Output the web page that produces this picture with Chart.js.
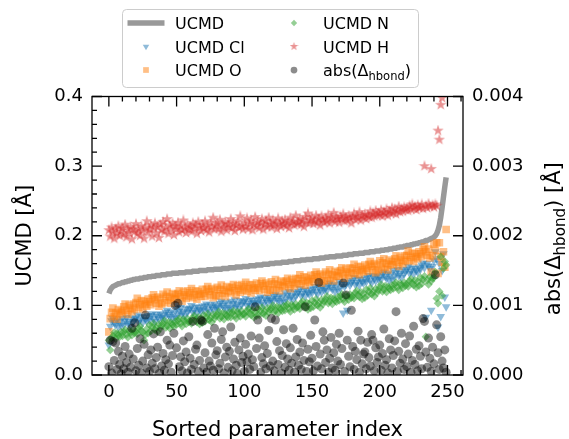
<!DOCTYPE html>
<html>
<head>
<meta charset="utf-8">
<title>UCMD vs sorted parameter index</title>
<script src="https://cdn.jsdelivr.net/npm/chart.js@4.4.1/dist/chart.umd.min.js"></script>
<style>
  html, body { margin: 0; padding: 0; background: #fff; }
  #chart { display: block; }
</style>
</head>
<body>
<canvas id="chart" width="569" height="439"></canvas>
<script>
// Values, parameters sorted by UCMD
const ucmd = [
  0.117, 0.122, 0.125, 0.127, 0.128, 0.129, 0.130, 0.131, 0.131, 0.132,
  0.133, 0.133, 0.134, 0.134, 0.135, 0.135, 0.136, 0.136, 0.137, 0.137,
  0.138, 0.138, 0.138, 0.139, 0.139, 0.139, 0.140, 0.140, 0.140, 0.141,
  0.141, 0.141, 0.142, 0.142, 0.142, 0.143, 0.143, 0.143, 0.143, 0.144,
  0.144, 0.144, 0.144, 0.145, 0.145, 0.145, 0.145, 0.146, 0.146, 0.146,
  0.146, 0.146, 0.147, 0.147, 0.147, 0.147, 0.147, 0.148, 0.148, 0.148,
  0.148, 0.148, 0.149, 0.149, 0.149, 0.149, 0.149, 0.150, 0.150, 0.150,
  0.150, 0.150, 0.150, 0.151, 0.151, 0.151, 0.151, 0.151, 0.152, 0.152,
  0.152, 0.152, 0.152, 0.152, 0.153, 0.153, 0.153, 0.153, 0.153, 0.154,
  0.154, 0.154, 0.154, 0.154, 0.155, 0.155, 0.155, 0.155, 0.155, 0.156,
  0.156, 0.156, 0.156, 0.156, 0.157, 0.157, 0.157, 0.157, 0.157, 0.158,
  0.158, 0.158, 0.158, 0.158, 0.159, 0.159, 0.159, 0.159, 0.159, 0.160,
  0.160, 0.160, 0.160, 0.161, 0.161, 0.161, 0.161, 0.161, 0.162, 0.162,
  0.162, 0.162, 0.162, 0.163, 0.163, 0.163, 0.163, 0.164, 0.164, 0.164,
  0.164, 0.164, 0.165, 0.165, 0.165, 0.165, 0.166, 0.166, 0.166, 0.166,
  0.166, 0.167, 0.167, 0.167, 0.167, 0.167, 0.168, 0.168, 0.168, 0.168,
  0.169, 0.169, 0.169, 0.170, 0.170, 0.170, 0.170, 0.170, 0.171, 0.171,
  0.171, 0.171, 0.171, 0.172, 0.172, 0.172, 0.172, 0.173, 0.173, 0.173,
  0.173, 0.174, 0.174, 0.174, 0.174, 0.175, 0.175, 0.175, 0.175, 0.176,
  0.176, 0.176, 0.176, 0.177, 0.177, 0.177, 0.177, 0.178, 0.178, 0.178,
  0.178, 0.179, 0.179, 0.179, 0.180, 0.180, 0.180, 0.181, 0.181, 0.181,
  0.182, 0.182, 0.182, 0.183, 0.183, 0.184, 0.184, 0.184, 0.185, 0.185,
  0.186, 0.186, 0.186, 0.187, 0.187, 0.188, 0.188, 0.189, 0.189, 0.190,
  0.190, 0.191, 0.191, 0.192, 0.193, 0.193, 0.194, 0.195, 0.196, 0.197,
  0.198, 0.200, 0.203, 0.208, 0.215, 0.226, 0.240, 0.255, 0.270, 0.284
];

const ucmdCl = [
  0.043, 0.070, 0.078, 0.081, 0.075, 0.072, 0.079, 0.069, 0.077, 0.071,
  0.081, 0.072, 0.078, 0.083, 0.074, 0.077, 0.071, 0.082, 0.076, 0.080,
  0.082, 0.086, 0.076, 0.079, 0.084, 0.075, 0.083, 0.080, 0.078, 0.085,
  0.079, 0.085, 0.088, 0.081, 0.077, 0.087, 0.084, 0.080, 0.088, 0.083,
  0.086, 0.082, 0.090, 0.093, 0.087, 0.084, 0.091, 0.081, 0.089, 0.083,
  0.095, 0.086, 0.092, 0.097, 0.088, 0.091, 0.085, 0.096, 0.090, 0.094,
  0.096, 0.100, 0.090, 0.093, 0.098, 0.089, 0.097, 0.094, 0.092, 0.099,
  0.093, 0.099, 0.102, 0.095, 0.091, 0.101, 0.098, 0.094, 0.102, 0.097,
  0.099, 0.095, 0.103, 0.106, 0.100, 0.097, 0.104, 0.094, 0.102, 0.096,
  0.106, 0.097, 0.103, 0.108, 0.099, 0.102, 0.096, 0.107, 0.101, 0.105,
  0.106, 0.110, 0.100, 0.103, 0.108, 0.099, 0.107, 0.104, 0.102, 0.109,
  0.103, 0.109, 0.112, 0.105, 0.101, 0.111, 0.108, 0.104, 0.112, 0.107,
  0.109, 0.105, 0.113, 0.116, 0.110, 0.107, 0.114, 0.104, 0.112, 0.106,
  0.118, 0.109, 0.115, 0.120, 0.111, 0.114, 0.108, 0.119, 0.113, 0.117,
  0.120, 0.124, 0.114, 0.117, 0.122, 0.113, 0.121, 0.118, 0.116, 0.123,
  0.118, 0.124, 0.127, 0.120, 0.116, 0.126, 0.123, 0.119, 0.127, 0.122,
  0.125, 0.121, 0.129, 0.132, 0.126, 0.123, 0.130, 0.120, 0.128, 0.122,
  0.134, 0.125, 0.131, 0.089, 0.127, 0.130, 0.093, 0.135, 0.129, 0.133,
  0.136, 0.140, 0.130, 0.133, 0.138, 0.129, 0.137, 0.134, 0.132, 0.139,
  0.134, 0.140, 0.143, 0.136, 0.132, 0.142, 0.139, 0.135, 0.143, 0.138,
  0.141, 0.137, 0.145, 0.148, 0.142, 0.139, 0.146, 0.136, 0.144, 0.138,
  0.150, 0.141, 0.147, 0.152, 0.143, 0.146, 0.140, 0.151, 0.145, 0.149,
  0.152, 0.156, 0.146, 0.149, 0.154, 0.145, 0.153, 0.150, 0.148, 0.155,
  0.152, 0.158, 0.161, 0.154, 0.083, 0.160, 0.157, 0.153, 0.093, 0.156,
  0.164, 0.177, 0.167, 0.069, 0.160, 0.084, 0.150, 0.174, 0.112, 0.098
];

const ucmdO = [
  0.062, 0.081, 0.090, 0.096, 0.084, 0.089, 0.080, 0.094, 0.087, 0.092,
  0.090, 0.098, 0.102, 0.093, 0.087, 0.100, 0.096, 0.091, 0.102, 0.094,
  0.104, 0.110, 0.097, 0.101, 0.107, 0.095, 0.106, 0.102, 0.099, 0.109,
  0.105, 0.101, 0.111, 0.115, 0.108, 0.103, 0.112, 0.099, 0.110, 0.102,
  0.116, 0.104, 0.113, 0.119, 0.107, 0.112, 0.103, 0.117, 0.110, 0.115,
  0.109, 0.117, 0.121, 0.112, 0.106, 0.119, 0.115, 0.110, 0.121, 0.113,
  0.118, 0.124, 0.111, 0.115, 0.121, 0.109, 0.120, 0.116, 0.113, 0.123,
  0.117, 0.113, 0.123, 0.127, 0.120, 0.115, 0.124, 0.111, 0.122, 0.114,
  0.126, 0.114, 0.123, 0.129, 0.117, 0.122, 0.113, 0.127, 0.120, 0.125,
  0.118, 0.126, 0.130, 0.121, 0.115, 0.128, 0.124, 0.119, 0.130, 0.122,
  0.127, 0.133, 0.120, 0.124, 0.130, 0.118, 0.129, 0.125, 0.122, 0.132,
  0.125, 0.121, 0.131, 0.135, 0.128, 0.123, 0.132, 0.119, 0.130, 0.122,
  0.134, 0.122, 0.131, 0.137, 0.125, 0.130, 0.121, 0.135, 0.128, 0.133,
  0.127, 0.135, 0.139, 0.130, 0.124, 0.137, 0.133, 0.128, 0.139, 0.131,
  0.138, 0.144, 0.131, 0.135, 0.141, 0.129, 0.140, 0.136, 0.133, 0.143,
  0.138, 0.134, 0.144, 0.148, 0.141, 0.136, 0.145, 0.132, 0.143, 0.135,
  0.148, 0.136, 0.145, 0.151, 0.139, 0.144, 0.135, 0.149, 0.142, 0.147,
  0.142, 0.150, 0.154, 0.145, 0.139, 0.152, 0.148, 0.143, 0.154, 0.146,
  0.153, 0.159, 0.146, 0.150, 0.156, 0.144, 0.155, 0.151, 0.148, 0.158,
  0.153, 0.149, 0.159, 0.163, 0.156, 0.151, 0.160, 0.147, 0.158, 0.150,
  0.164, 0.152, 0.161, 0.167, 0.155, 0.160, 0.151, 0.165, 0.158, 0.163,
  0.159, 0.167, 0.171, 0.162, 0.156, 0.169, 0.165, 0.160, 0.171, 0.163,
  0.172, 0.178, 0.165, 0.169, 0.175, 0.163, 0.174, 0.170, 0.167, 0.177,
  0.174, 0.170, 0.180, 0.184, 0.177, 0.172, 0.181, 0.168, 0.148, 0.171,
  0.188, 0.179, 0.190, 0.146, 0.190, 0.170, 0.162, 0.177, 0.155, 0.209
];

const ucmdN = [
  0.050, 0.036, 0.053, 0.056, 0.061, 0.052, 0.060, 0.057, 0.055, 0.062,
  0.056, 0.062, 0.065, 0.058, 0.054, 0.064, 0.061, 0.057, 0.065, 0.060,
  0.063, 0.059, 0.067, 0.070, 0.064, 0.061, 0.050, 0.058, 0.066, 0.060,
  0.072, 0.063, 0.069, 0.074, 0.065, 0.068, 0.062, 0.073, 0.067, 0.071,
  0.074, 0.078, 0.068, 0.071, 0.076, 0.067, 0.075, 0.072, 0.070, 0.077,
  0.072, 0.078, 0.081, 0.074, 0.070, 0.080, 0.077, 0.073, 0.081, 0.076,
  0.078, 0.074, 0.082, 0.085, 0.079, 0.076, 0.083, 0.073, 0.081, 0.075,
  0.086, 0.077, 0.083, 0.088, 0.079, 0.082, 0.076, 0.087, 0.081, 0.085,
  0.087, 0.091, 0.081, 0.084, 0.089, 0.080, 0.088, 0.085, 0.083, 0.090,
  0.083, 0.089, 0.092, 0.085, 0.081, 0.091, 0.088, 0.084, 0.092, 0.087,
  0.088, 0.084, 0.092, 0.095, 0.089, 0.086, 0.093, 0.083, 0.091, 0.085,
  0.095, 0.086, 0.092, 0.097, 0.088, 0.091, 0.085, 0.096, 0.090, 0.094,
  0.096, 0.100, 0.090, 0.093, 0.098, 0.089, 0.097, 0.094, 0.092, 0.099,
  0.093, 0.099, 0.102, 0.095, 0.091, 0.101, 0.098, 0.094, 0.102, 0.097,
  0.099, 0.095, 0.103, 0.106, 0.100, 0.097, 0.104, 0.094, 0.102, 0.096,
  0.107, 0.098, 0.104, 0.109, 0.100, 0.103, 0.097, 0.108, 0.102, 0.106,
  0.109, 0.113, 0.103, 0.106, 0.111, 0.102, 0.110, 0.107, 0.105, 0.112,
  0.107, 0.113, 0.116, 0.109, 0.105, 0.115, 0.112, 0.108, 0.116, 0.111,
  0.114, 0.110, 0.118, 0.121, 0.115, 0.112, 0.119, 0.109, 0.117, 0.111,
  0.123, 0.114, 0.120, 0.125, 0.116, 0.119, 0.113, 0.124, 0.118, 0.122,
  0.126, 0.130, 0.120, 0.123, 0.128, 0.119, 0.127, 0.124, 0.122, 0.129,
  0.124, 0.130, 0.133, 0.126, 0.122, 0.132, 0.129, 0.125, 0.133, 0.128,
  0.131, 0.127, 0.135, 0.138, 0.132, 0.129, 0.136, 0.126, 0.134, 0.128,
  0.140, 0.131, 0.137, 0.142, 0.055, 0.136, 0.130, 0.141, 0.135, 0.139,
  0.140, 0.148, 0.110, 0.103, 0.120, 0.170, 0.114, 0.153, 0.163, 0.158
];

const ucmdH = [
  0.208, 0.199, 0.212, 0.205, 0.196, 0.210, 0.203, 0.214, 0.200, 0.207,
  0.211, 0.202, 0.216, 0.198, 0.209, 0.204, 0.213, 0.195, 0.210, 0.206,
  0.217, 0.203, 0.209, 0.200, 0.214, 0.207, 0.196, 0.212, 0.221, 0.205,
  0.209, 0.215, 0.199, 0.211, 0.218, 0.204, 0.213, 0.197, 0.216, 0.208,
  0.220, 0.206, 0.212, 0.224, 0.203, 0.215, 0.209, 0.218, 0.201, 0.213,
  0.210, 0.219, 0.205, 0.214, 0.208, 0.222, 0.211, 0.204, 0.216, 0.209,
  0.213, 0.206, 0.218, 0.210, 0.215, 0.203, 0.220, 0.212, 0.207, 0.216,
  0.211, 0.221, 0.208, 0.214, 0.205, 0.219, 0.212, 0.226, 0.209, 0.215,
  0.218, 0.210, 0.223, 0.206, 0.216, 0.212, 0.220, 0.208, 0.217, 0.213,
  0.224, 0.211, 0.218, 0.207, 0.215, 0.221, 0.212, 0.228, 0.214, 0.209,
  0.219, 0.213, 0.225, 0.210, 0.217, 0.222, 0.208, 0.216, 0.227, 0.214,
  0.220, 0.211, 0.218, 0.224, 0.209, 0.216, 0.221, 0.213, 0.226, 0.217,
  0.212, 0.222, 0.215, 0.219, 0.210, 0.225, 0.217, 0.213, 0.221, 0.216,
  0.223, 0.214, 0.219, 0.211, 0.226, 0.218, 0.221, 0.215, 0.229, 0.217,
  0.220, 0.224, 0.216, 0.222, 0.213, 0.227, 0.219, 0.232, 0.218, 0.223,
  0.226, 0.217, 0.221, 0.229, 0.219, 0.224, 0.215, 0.228, 0.222, 0.219,
  0.225, 0.221, 0.230, 0.218, 0.226, 0.223, 0.233, 0.220, 0.227, 0.224,
  0.219, 0.228, 0.224, 0.231, 0.221, 0.226, 0.222, 0.229, 0.225, 0.218,
  0.227, 0.232, 0.223, 0.228, 0.225, 0.234, 0.222, 0.229, 0.226, 0.231,
  0.224, 0.230, 0.227, 0.235, 0.226, 0.232, 0.228, 0.236, 0.229, 0.233,
  0.230, 0.237, 0.228, 0.234, 0.231, 0.238, 0.229, 0.235, 0.232, 0.240,
  0.233, 0.238, 0.231, 0.236, 0.242, 0.234, 0.239, 0.235, 0.241, 0.237,
  0.240, 0.236, 0.243, 0.238, 0.245, 0.239, 0.242, 0.237, 0.244, 0.240,
  0.241, 0.245, 0.239, 0.300, 0.243, 0.240, 0.246, 0.242, 0.296, 0.244,
  0.241, 0.245, 0.243, 0.351, 0.338, 0.388, 0.398, 0.430, 0.470, 0.520
];

// right axis
const hbondAbs = [
  0.00012, 0.00050, 0.00003, 0.00048, 0.00021, 0.00046, 0.00008, 0.00034, 0.00015, 0.00002,
  0.00027, 0.00009, 0.00041, 0.00018, 0.00004, 0.00030, 0.00011, 0.00067, 0.00023, 0.00075,
  0.00006, 0.00038, 0.00014, 0.00052, 0.00003, 0.00020, 0.00044, 0.00086, 0.00010, 0.00029,
  0.00005, 0.00036, 0.00017, 0.00059, 0.00009, 0.00025, 0.00040, 0.00002, 0.00062, 0.00013,
  0.00031, 0.00007, 0.00022, 0.00050, 0.00016, 0.00043, 0.00004, 0.00028, 0.00060, 0.00100,
  0.00039, 0.00103, 0.00012, 0.00026, 0.00006, 0.00049, 0.00019, 0.00033, 0.00003, 0.00055,
  0.00024, 0.00008, 0.00077, 0.00015, 0.00037, 0.00043, 0.00005, 0.00021, 0.00079, 0.00077,
  0.00010, 0.00032, 0.00004, 0.00058, 0.00020, 0.00013, 0.00046, 0.00007, 0.00067, 0.00029,
  0.00035, 0.00009, 0.00017, 0.00051, 0.00062, 0.00003, 0.00026, 0.00040, 0.00011, 0.00034,
  0.00069, 0.00006, 0.00023, 0.00047, 0.00014, 0.00002, 0.00036, 0.00053, 0.00018, 0.00027,
  0.00005, 0.00044, 0.00019, 0.00030, 0.00008, 0.00056, 0.00022, 0.00012, 0.00098, 0.00038,
  0.00079, 0.00053, 0.00004, 0.00025, 0.00016, 0.00042, 0.00009, 0.00031, 0.00064, 0.00013,
  0.00081, 0.00020, 0.00006, 0.00079, 0.00048, 0.00015, 0.00035, 0.00003, 0.00028, 0.00065,
  0.00011, 0.00045, 0.00023, 0.00007, 0.00039, 0.00017, 0.00067, 0.00004, 0.00026, 0.00051,
  0.00014, 0.00033, 0.00008, 0.00046, 0.00021, 0.00098, 0.00005, 0.00037, 0.00019, 0.00057,
  0.00024, 0.00006, 0.00079, 0.00041, 0.00013, 0.00133, 0.00030, 0.00009, 0.00062, 0.00050,
  0.00018, 0.00036, 0.00004, 0.00024, 0.00054, 0.00010, 0.00032, 0.00007, 0.00044, 0.00020,
  0.00060, 0.00015, 0.00038, 0.00132, 0.00005, 0.00115, 0.00050, 0.00027, 0.00012, 0.00093,
  0.00041, 0.00008, 0.00034, 0.00022, 0.00063, 0.00004, 0.00050, 0.00016, 0.00030, 0.00033,
  0.00009, 0.00047, 0.00025, 0.00013, 0.00058, 0.00050, 0.00006, 0.00039, 0.00018, 0.00026,
  0.00043, 0.00007, 0.00031, 0.00066, 0.00014, 0.00022, 0.00003, 0.00052, 0.00036, 0.00010,
  0.00028, 0.00049, 0.00091, 0.00005, 0.00034, 0.00017, 0.00060, 0.00023, 0.00008, 0.00045,
  0.00012, 0.00030, 0.00056, 0.00004, 0.00021, 0.00070, 0.00015, 0.00037, 0.00006, 0.00042,
  0.00027, 0.00009, 0.00081, 0.00077, 0.00033, 0.00011, 0.00053, 0.00024, 0.00005, 0.00040,
  0.00016, 0.00144, 0.00072, 0.00032, 0.00008, 0.00055, 0.00020, 0.00010, 0.00036, 0.00004
];

const paramIndex = ucmd.map((_, i) => i);
const xTicks = [0, 50, 100, 150, 200, 250];
const yTicks = [0, 0.1, 0.2, 0.3, 0.4];
const y2Ticks = [0, 0.001, 0.002, 0.003, 0.004];

const FONT = '"DejaVu Sans", sans-serif';

function toPoints(vals) {
  return vals.map((v, i) => ({ x: paramIndex[i], y: v }));
}

// filled 5 point star like matplotlib's '*'
function starMarker(size, color) {
  const c = document.createElement('canvas');
  c.width = c.height = size;
  const g = c.getContext('2d');
  const r = size / 2, ri = r * 0.382;
  g.fillStyle = color;
  g.beginPath();
  for (let k = 0; k < 10; k++) {
    const rad = k % 2 ? ri : r;
    const ang = -Math.PI / 2 + k * Math.PI / 5;
    g.lineTo(r + rad * Math.cos(ang), r + rad * Math.sin(ang));
  }
  g.closePath();
  g.fill();
  return c;
}
const starPlot = starMarker(12, 'rgba(214,39,40,0.5)');
const starLegend = starMarker(9, 'rgba(214,39,40,0.5)');

// text with _{sub} parts
function drawRich(ctx, text, x, y, size, align) {
  const parts = [];
  text.split(/(_\{[^}]*\})/).forEach(s => {
    if (!s) return;
    if (s.startsWith('_{')) parts.push({ t: s.slice(2, -1), sub: true });
    else parts.push({ t: s, sub: false });
  });
  const subSize = size * 0.72;
  const widths = parts.map(p => {
    ctx.font = (p.sub ? subSize : size) + 'px ' + FONT;
    return ctx.measureText(p.t).width;
  });
  const total = widths.reduce((s, w) => s + w, 0);
  let cx = align === 'center' ? x - total / 2 : x;
  ctx.textAlign = 'left';
  ctx.textBaseline = 'alphabetic';
  parts.forEach((p, i) => {
    ctx.font = (p.sub ? subSize : size) + 'px ' + FONT;
    ctx.fillText(p.t, cx, y + (p.sub ? size * 0.24 : 0));
    cx += widths[i];
  });
}

const frameTicks = {
  id: 'frameTicks',
  afterDatasetsDraw(chart) {
    const { ctx, chartArea: a } = chart;
    const { x, y, y2 } = chart.scales;
    ctx.save();
    ctx.strokeStyle = '#000';
    ctx.lineWidth = 1.3;
    ctx.beginPath();
    for (let v = 0; v <= x.max; v += 10) {
      const px = x.getPixelForValue(v);
      const len = xTicks.includes(v) ? 10 : 5;
      ctx.moveTo(px, a.bottom); ctx.lineTo(px, a.bottom - len);
      ctx.moveTo(px, a.top); ctx.lineTo(px, a.top + len);
    }
    for (let k = 0; k <= 20; k++) {
      const py = y.getPixelForValue(k * 0.02);
      const len = k % 5 === 0 ? 10 : 5;
      ctx.moveTo(a.left, py); ctx.lineTo(a.left + len, py);
    }
    y2Ticks.forEach(v => {
      const py = y2.getPixelForValue(v);
      ctx.moveTo(a.right, py); ctx.lineTo(a.right - 10, py);
    });
    ctx.stroke();
    ctx.strokeRect(a.left, a.top, a.right - a.left, a.bottom - a.top);
    ctx.restore();
  }
};

const legendAndTitles = {
  id: 'legendAndTitles',
  afterDraw(chart) {
    const ctx = chart.ctx;
    const a = chart.chartArea;
    ctx.save();
    ctx.fillStyle = '#000';

    // axis titles
    drawRich(ctx, 'Sorted parameter index', (a.left + a.right) / 2, 436, 21, 'center');
    ctx.save();
    ctx.translate(31, (a.top + a.bottom) / 2);
    ctx.rotate(-Math.PI / 2);
    drawRich(ctx, 'UCMD [Å]', 0, 0, 21, 'center');
    ctx.restore();
    ctx.save();
    ctx.translate(560, (a.top + a.bottom) / 2 + 3);
    ctx.rotate(-Math.PI / 2);
    drawRich(ctx, 'abs(Δ_{hbond}) [Å]', 0, 0, 21, 'center');
    ctx.restore();

    // legend frame
    const bx = 122.5, by = 9.5, bw = 296, bh = 78, br = 4;
    ctx.beginPath();
    ctx.moveTo(bx + br, by);
    ctx.arcTo(bx + bw, by, bx + bw, by + bh, br);
    ctx.arcTo(bx + bw, by + bh, bx, by + bh, br);
    ctx.arcTo(bx, by + bh, bx, by, br);
    ctx.arcTo(bx, by, bx + bw, by, br);
    ctx.closePath();
    ctx.fillStyle = 'rgba(255,255,255,0.8)';
    ctx.fill();
    ctx.strokeStyle = '#cccccc';
    ctx.lineWidth = 1;
    ctx.stroke();

    const colMarker = [146, 294], colText = [175, 323], rowY = [23, 46.5, 70];
    chart.data.datasets.forEach((ds, i) => {
      const col = Math.floor(i / 3), row = i % 3;
      const mx = colMarker[col], my = rowY[row];
      if (ds.showLine) {
        ctx.strokeStyle = ds.borderColor;
        ctx.lineWidth = ds.borderWidth;
        ctx.beginPath();
        ctx.moveTo(mx - 18.5, my); ctx.lineTo(mx + 18.5, my);
        ctx.stroke();
      } else if (ds.pointStyle instanceof HTMLCanvasElement) {
        ctx.drawImage(starLegend, mx - starLegend.width / 2, my - starLegend.height / 2);
      } else {
        ctx.fillStyle = ds.backgroundColor;
        Chart.helpers.drawPoint(ctx, {
          pointStyle: ds.pointStyle,
          rotation: ds.pointRotation || 0,
          radius: ds.pointRadius * 0.75,
          borderWidth: 0
        }, mx, my);
      }
      ctx.fillStyle = '#000';
      drawRich(ctx, ds.label, colText[col], my + 6, 16, 'left');
    });
    ctx.restore();
  }
};

const tickFont = { family: FONT, size: 18 };

new Chart(document.getElementById('chart'), {
  type: 'scatter',
  data: {
    datasets: [
      { label: 'UCMD', data: toPoints(ucmd), showLine: true, borderColor: '#999999',
        borderWidth: 5.5, pointRadius: 0, tension: 0, yAxisID: 'y', order: 6 },
      { label: 'UCMD Cl', data: toPoints(ucmdCl), pointStyle: 'triangle', pointRotation: 180,
        pointRadius: 5, backgroundColor: 'rgba(31,119,180,0.5)', pointBorderWidth: 0, yAxisID: 'y', order: 5 },
      { label: 'UCMD O', data: toPoints(ucmdO), pointStyle: 'rect', pointRadius: 5.4,
        backgroundColor: 'rgba(255,127,14,0.5)', pointBorderWidth: 0, yAxisID: 'y', order: 4 },
      { label: 'UCMD N', data: toPoints(ucmdN), pointStyle: 'rectRot', pointRadius: 4.2,
        backgroundColor: 'rgba(44,160,44,0.5)', pointBorderWidth: 0, yAxisID: 'y', order: 3 },
      { label: 'UCMD H', data: toPoints(ucmdH), pointStyle: starPlot, pointRadius: 5,
        backgroundColor: 'rgba(214,39,40,0.5)', pointBorderWidth: 0, yAxisID: 'y', order: 2 },
      { label: 'abs(Δ_{hbond})', data: toPoints(hbondAbs), pointStyle: 'circle', pointRadius: 4.5,
        backgroundColor: 'rgba(0,0,0,0.45)', pointBorderWidth: 0, yAxisID: 'y2', order: 1 }
    ]
  },
  options: {
    responsive: false,
    animation: false,
    events: [],
    layout: { padding: { top: 96.5, left: 0, right: 0, bottom: 0 } },
    plugins: { legend: { display: false }, tooltip: { enabled: false } },
    scales: {
      x: {
        type: 'linear', position: 'bottom', min: -12.45, max: 261.45,
        afterBuildTicks: s => { s.ticks = xTicks.map(v => ({ value: v })); },
        afterFit: s => { s.height = 64; },
        grid: { display: false, drawTicks: false }, border: { display: false },
        ticks: { font: tickFont, color: '#000', padding: 7, maxRotation: 0, autoSkip: false,
          callback: v => String(v) }
      },
      y: {
        type: 'linear', position: 'left', min: 0, max: 0.4,
        afterBuildTicks: s => { s.ticks = yTicks.map(v => ({ value: v })); },
        afterFit: s => { s.width = 92; },
        grid: { display: false, drawTicks: false }, border: { display: false },
        ticks: { font: tickFont, color: '#000', padding: 9, callback: v => v.toFixed(1) }
      },
      y2: {
        type: 'linear', position: 'right', min: 0, max: 0.004,
        afterBuildTicks: s => { s.ticks = y2Ticks.map(v => ({ value: v })); },
        afterFit: s => { s.width = 106; },
        grid: { display: false, drawTicks: false }, border: { display: false },
        ticks: { font: tickFont, color: '#000', padding: 9, callback: v => v.toFixed(3) }
      }
    }
  },
  plugins: [frameTicks, legendAndTitles]
});
</script>
</body>
</html>
